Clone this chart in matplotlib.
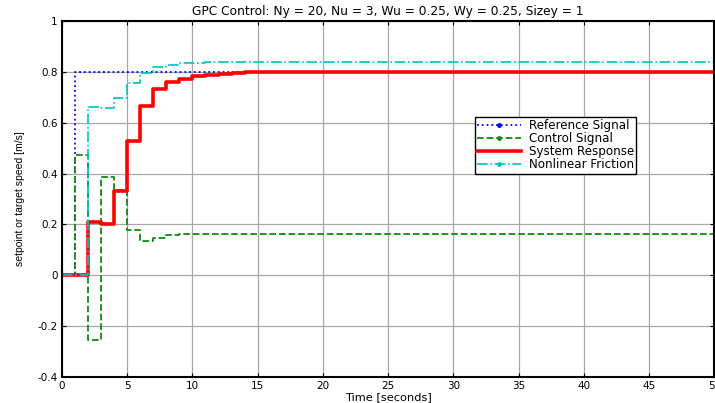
import matplotlib
matplotlib.use('Agg')
from matplotlib import pyplot as plt
from matplotlib.lines import Line2D

# time samples (seconds) - steps every second, final point at 50
t = [0, 1, 2, 3, 4, 5, 6, 7, 8, 9, 10, 11, 12, 13, 14, 15, 16, 50]

# series values at each sample (held until next sample)
reference = [0, 0.8, 0.8, 0.8, 0.8, 0.8, 0.8, 0.8, 0.8, 0.8, 0.8, 0.8, 0.8, 0.8, 0.8, 0.8, 0.8, 0.8]
control = [0, 0.472, -0.253, 0.388, 0.334, 0.178, 0.134, 0.147, 0.158, 0.163, 0.162, 0.162, 0.162, 0.162, 0.162, 0.162, 0.162, 0.162]
response = [0, 0, 0.208, 0.203, 0.332, 0.528, 0.666, 0.731, 0.759, 0.772, 0.783, 0.789, 0.793, 0.796, 0.798, 0.8, 0.8, 0.8]
friction = [0, 0, 0.66, 0.658, 0.698, 0.757, 0.796, 0.82, 0.828, 0.833, 0.836, 0.838, 0.838, 0.838, 0.838, 0.838, 0.838, 0.838]

labels = ['Reference Signal', 'Control Signal', 'System Response', 'Nonlinear Friction']
colors = ['#0000ff', '#108a10', '#ff0000', '#00c4c4']
styles = [':', '--', '-', '-.']
widths = [1.3, 1.3, 2.6, 1.2]
markers = ['.', '.', '', '.']

plt.rcParams['font.family'] = ['DejaVu Sans']

fig = plt.figure(figsize=(7.15, 4.03), dpi=100)
ax = fig.add_axes([0.0867, 0.0645, 0.9123, 0.8835])

# stairs style lines, like matlab's stairs()
for y, c, ls, lw in zip([reference, control, response, friction], colors, styles, widths):
    ax.plot(t, y, color=c, linestyle=ls, linewidth=lw, drawstyle='steps-post')

ax.set_xlim(0, 50)
ax.set_ylim(-0.4, 1)
ax.set_xticks(range(0, 51, 5))
ax.set_yticks([-0.4, -0.2, 0, 0.2, 0.4, 0.6, 0.8, 1])
ax.set_yticklabels(['-0.4', '-0.2', '0', '0.2', '0.4', '0.6', '0.8', '1'])
ax.grid(True, color='#a8a8a8', linestyle='-', linewidth=0.9)
ax.tick_params(direction='in', labelsize=7.5, top=True, right=True, length=3, width=0.8, pad=3)
for s in ax.spines.values():
    s.set_linewidth(1.5)
    s.set_color('black')

ax.set_title('GPC Control: Ny = 20, Nu = 3, Wu = 0.25, Wy = 0.25, Sizey = 1', fontsize=8.8, pad=4)
ax.set_xlabel('Time [seconds]', fontsize=8.2, labelpad=1)
ax.set_ylabel('setpoint or target speed [m/s]', fontsize=7.5, labelpad=9,
              family=['Liberation Sans', 'DejaVu Sans'])

# legend handles show a dot marker like the matlab legend
handles = [Line2D([], [], color=c, linestyle=ls, linewidth=lw, marker=m, markersize=5)
           for c, ls, lw, m in zip(colors, styles, widths, markers)]
leg = ax.legend(handles, labels, loc='upper left', bbox_to_anchor=(0.633, 0.73), fontsize=8.6,
                fancybox=False, framealpha=1, edgecolor='black', borderpad=0.2, labelspacing=0.0,
                handlelength=3.7, handletextpad=0.6, borderaxespad=0)
leg.get_frame().set_linewidth(1.0)

plt.savefig('out.png', dpi=100)
